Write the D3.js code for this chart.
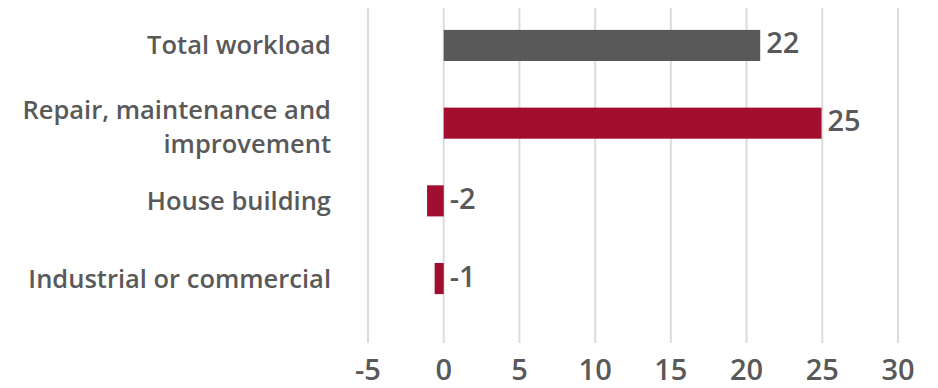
<html lang="en">
<head>
    <meta charset="UTF-8">
    <title>Workload balance</title>
    <script src="https://d3js.org/d3.v7.min.js"></script>
    <style>
        body {
            margin: 0;
            background: #ffffff;
        }
        svg text {
            font-family: 'Open Sans', Lato, sans-serif;
            font-weight: 600;
            fill: #595959;
        }
    </style>
</head>
<body>
    <div id="chart"></div>

    <script>
        // values
        const categories = [
            ['Total workload'],
            ['Repair, maintenance and', 'improvement'],
            ['House building'],
            ['Industrial or commercial']
        ];
        const values = [20.9, 24.95, -1.1, -0.6];
        const valueLabels = ['22', '25', '-2', '-1'];
        const barColors = ['#595959', '#a20e2f', '#a20e2f', '#a20e2f'];
        const xTicks = [-5, 0, 5, 10, 15, 20, 25, 30];

        const width = 938;
        const height = 388;
        const plot = { left: 368, right: 898, top: 8, bottom: 343 };

        const svg = d3.select('#chart')
            .append('svg')
            .attr('width', width)
            .attr('height', height);

        const x = d3.scaleLinear()
            .domain([-5, 30])
            .range([plot.left, plot.right]);

        const y = d3.scaleBand()
            .domain(d3.range(categories.length))
            .range([6.6, 317.4])
            .paddingInner(0.6)
            .paddingOuter(0.3);

        // vertical gridlines
        svg.append('g')
            .selectAll('line')
            .data(xTicks)
            .join('line')
            .attr('x1', d => x(d))
            .attr('x2', d => x(d))
            .attr('y1', plot.top)
            .attr('y2', plot.bottom)
            .attr('stroke', '#dcdcdc')
            .attr('stroke-width', 2);

        // tick labels
        svg.append('g')
            .selectAll('text')
            .data(xTicks)
            .join('text')
            .attr('x', d => x(d))
            .attr('y', 380)
            .attr('text-anchor', 'middle')
            .style('font-size', '29px')
            .text(d => d);

        // bars
        svg.append('g')
            .selectAll('rect')
            .data(values)
            .join('rect')
            .attr('x', d => x(Math.min(0, d)))
            .attr('y', (d, i) => y(i))
            .attr('width', d => Math.abs(x(d) - x(0)))
            .attr('height', y.bandwidth())
            .attr('fill', (d, i) => barColors[i]);

        // value labels
        svg.append('g')
            .selectAll('text')
            .data(values)
            .join('text')
            .attr('x', d => x(Math.max(0, d)) + 6)
            .attr('y', (d, i) => y(i) + y.bandwidth() / 2 + 8)
            .style('font-size', '29px')
            .text((d, i) => valueLabels[i]);

        // category labels
        const cat = svg.append('g')
            .selectAll('text')
            .data(categories)
            .join('text')
            .attr('text-anchor', 'end')
            .style('font-size', '25.5px')
            .attr('y', (d, i) => y(i) + y.bandwidth() / 2 + 9 - (d.length - 1) * 13);

        cat.selectAll('tspan')
            .data(d => d)
            .join('tspan')
            .attr('x', 331)
            .attr('dy', (d, i) => i === 0 ? 0 : 34)
            .text(d => d);
    </script>
</body>
</html>
